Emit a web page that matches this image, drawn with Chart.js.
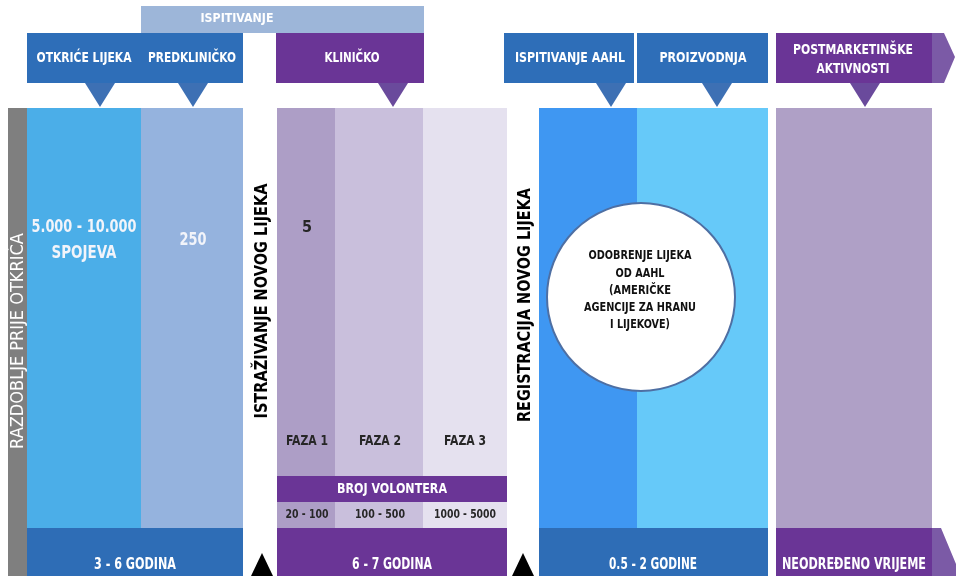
<!DOCTYPE html>
<html>
<head>
<meta charset="utf-8">
<script src="https://cdn.jsdelivr.net/npm/chart.js@4.4.1/dist/chart.umd.min.js"></script>
<style>
  html, body { margin: 0; padding: 0; background: #fff; }
  canvas { display: block; }
</style>
</head>
<body>
<canvas id="chart" width="956" height="576"></canvas>
<script>
// ---- content ----
const groupLabel = 'ISPITIVANJE';
const stageHeaders = ['OTKRIĆE LIJEKA', 'PREDKLINIČKO', 'KLINIČKO', 'ISPITIVANJE AAHL', 'PROIZVODNJA', 'POSTMARKETINŠKE|AKTIVNOSTI'];
const compounds = ['5.000 - 10.000|SPOJEVA', '250', '5'];
const phases = ['FAZA 1', 'FAZA 2', 'FAZA 3'];
const volunteerTitle = 'BROJ VOLONTERA';
const volunteers = ['20 - 100', '100 - 500', '1000 - 5000'];
const durations = ['3 - 6 GODINA', '6 - 7 GODINA', '0.5 - 2 GODINE', 'NEODREĐENO VRIJEME'];
const milestones = ['RAZDOBLJE PRIJE OTKRIĆA', 'ISTRAŽIVANJE NOVOG LIJEKA', 'REGISTRACIJA NOVOG LIJEKA'];
const approval = ['ODOBRENJE LIJEKA', 'OD AAHL', '(AMERIČKE', 'AGENCIJE ZA HRANU', 'I LIJEKOVE)'];

// ---- colours ----
const BLUE = '#2e6eb8';
const PURPLE = '#6a3596';
const F1 = '#ad9ec6', F2 = '#c9bfdc', F3 = '#e5e1ef';

// ---- layout (timeline units on the x/y scales) ----
const rects = [
  [141, 6, 424, 33, '#9db6d9'],
  [27, 33, 243, 83, BLUE],
  [276, 33, 424, 83, PURPLE],
  [504, 33, 634, 83, BLUE],
  [637, 33, 768, 83, BLUE],
  [776, 33, 932, 83, PURPLE],
  [8, 108, 27, 576, '#7f7f7f'],
  [27, 108, 141, 528, '#4baee8'],
  [141, 108, 243, 528, '#95b3de'],
  [27, 528, 243, 576, '#2e6db6'],
  [277, 108, 335, 476, F1],
  [335, 108, 423, 476, F2],
  [423, 108, 507, 476, F3],
  [277, 476, 507, 502, PURPLE],
  [277, 502, 335, 528, F1],
  [335, 502, 423, 528, F2],
  [423, 502, 507, 528, F3],
  [277, 528, 507, 576, PURPLE],
  [539, 108, 637, 528, '#3f97f2'],
  [637, 108, 768, 528, '#66c9f9'],
  [539, 528, 768, 576, '#2e6db6'],
  [776, 108, 932, 528, '#afa0c6'],
  [776, 528, 932, 576, PURPLE]
];
const chevrons = [
  [[932, 33], [944, 33], [955, 57], [944, 83], [932, 83]],
  [[932, 528], [941, 528], [956, 564], [956, 576], [932, 576]]
];
const pointerX = [100, 193, 393, 611, 717, 865];
const pointerCol = ['#3d70b4', '#3d70b4', '#6a4a9c', '#3d70b4', '#3d70b4', '#6a4a9c'];
const markerX = [262, 523];

const shapes = [];
rects.forEach(([x0, y0, x1, y1, c]) => shapes.push({ pts: [[x0, y0], [x1, y0], [x1, y1], [x0, y1]], color: c }));
chevrons.forEach(p => shapes.push({ pts: p, color: '#7b5aa6' }));
pointerX.forEach((cx, i) => shapes.push({ pts: [[cx - 15, 83], [cx + 15, 83], [cx, 107]], color: pointerCol[i] }));
markerX.forEach(cx => shapes.push({ pts: [[cx - 11, 576], [cx, 553], [cx + 11, 576]], color: '#000' }));

const datasets = shapes.map((s, i) => ({
  type: 'line',
  data: s.pts.map(([x, y]) => ({ x, y })),
  fill: 'shape',
  backgroundColor: s.color,
  borderWidth: 0,
  pointRadius: 0,
  tension: 0,
  order: 1000 - i
}));
// approval circle
datasets.push({
  type: 'line',
  data: [{ x: 641, y: 297 }],
  showLine: false,
  pointRadius: 94,
  pointBackgroundColor: '#ffffff',
  pointBorderColor: '#4e6fa3',
  pointBorderWidth: 2,
  order: 0
});

// ---- text ----
const NARROW = '"Liberation Sans Narrow", "DejaVu Sans Condensed", sans-serif';
const W = '#ffffff', D = '#262626';
const labels = [];
function add(text, x, y, size, color, max, opts = {}) {
  labels.push({ text, x, y, font: (opts.normal ? '' : 'bold ') + size + 'px ' + NARROW, color, rot: opts.rot, max });
}
add(groupLabel, 237, 19, 13, W, 73);
const headX = [84, 192, 352, 570, 703, 853];
const headW = [[95], [88], [55], [110], [87], [120, 73]];
stageHeaders.forEach((t, i) => {
  const lines = t.split('|');
  lines.forEach((ln, j) => add(ln, headX[i], lines.length > 1 ? 50 + j * 19 : 58, 14, W, headW[i][j]));
});
const compW = [105, 65];
compounds[0].split('|').forEach((ln, j) => add(ln, 84, 228 + j * 26, 17, '#f2f4fa', compW[j]));
add(compounds[1], 193, 241, 17, '#f2f4fa', 27);
add(compounds[2], 307, 228, 16, D, 12);
const phaseX = [307, 380, 465];
phases.forEach((t, i) => add(t, phaseX[i], 441, 14, D, 42));
add(volunteerTitle, 392, 489, 14, W, 110);
const volW = [43, 50, 62];
volunteers.forEach((t, i) => add(t, phaseX[i], 515, 13, D, volW[i]));
const durX = [135, 392, 653, 854];
const durW = [82, 80, 88, 144];
durations.forEach((t, i) => add(t, durX[i], 565, 16, W, durW[i]));
add(milestones[0], 18, 341, 18, W, 235, { rot: true, normal: true });
add(milestones[1], 262, 301, 18, '#000', 235, { rot: true });
add(milestones[2], 525, 305, 18, '#000', 234, { rot: true });
const apprW = [103, 49, 62, 112, 60];
approval.forEach((t, i) => add(t, 640, 256 + i * 17.2, 13, '#111', apprW[i]));

const textPlugin = {
  id: 'infoText',
  afterDatasetsDraw(chart) {
    const { ctx, scales: { x, y } } = chart;
    ctx.save();
    ctx.textAlign = 'center';
    ctx.textBaseline = 'middle';
    labels.forEach(l => {
      ctx.save();
      ctx.translate(x.getPixelForValue(l.x), y.getPixelForValue(l.y));
      if (l.rot) ctx.rotate(-Math.PI / 2);
      ctx.font = l.font;
      ctx.fillStyle = l.color;
      ctx.fillText(l.text, 0, 0, l.max);
      ctx.restore();
    });
    ctx.restore();
  }
};

new Chart(document.getElementById('chart').getContext('2d'), {
  type: 'line',
  data: { datasets },
  options: {
    responsive: false,
    animation: false,
    events: [],
    layout: { padding: 0, autoPadding: false },
    plugins: { legend: { display: false }, tooltip: { enabled: false } },
    scales: {
      x: { type: 'linear', min: 0, max: 956, display: false },
      y: { type: 'linear', min: 0, max: 576, reverse: true, display: false }
    }
  },
  plugins: [textPlugin]
});
</script>
</body>
</html>
